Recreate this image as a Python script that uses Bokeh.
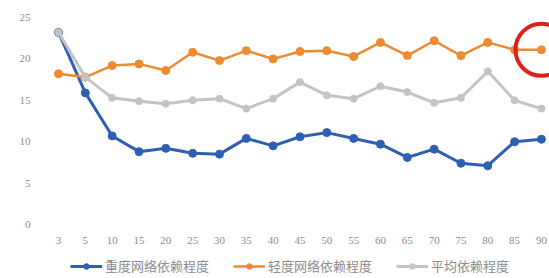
from bokeh.plotting import figure
from bokeh.models import Range1d, FixedTicker, Legend, LegendItem
from bokeh.embed import file_html
from bokeh.resources import INLINE

categories = ["3", "5", "10", "15", "20", "25", "30", "35", "40", "45",
              "50", "55", "60", "65", "70", "75", "80", "85", "90"]
heavy = [23.2, 15.9, 10.7, 8.8, 9.2, 8.6, 8.5, 10.4, 9.5, 10.6,
         11.1, 10.4, 9.7, 8.1, 9.1, 7.4, 7.1, 10.0, 10.3]
light = [18.2, 17.8, 19.2, 19.4, 18.6, 20.8, 19.8, 21.0, 20.0, 20.9,
         21.0, 20.3, 22.0, 20.4, 22.2, 20.4, 22.0, 21.1, 21.1]
average = [23.2, 17.8, 15.3, 14.9, 14.6, 15.0, 15.2, 14.0, 15.2, 17.2,
           15.6, 15.2, 16.7, 16.0, 14.7, 15.3, 18.5, 15.0, 14.0]
y_ticks = [0, 5, 10, 15, 20, 25]
series_names = ["重度网络依赖程度", "轻度网络依赖程度", "平均依赖程度"]

xs = list(range(len(categories)))

p = figure(width=549, height=278, output_backend="svg", toolbar_location=None,
           x_range=Range1d(-0.485, 18.3), y_range=Range1d(-6.52, 25.85),
           min_border_left=45, min_border_right=0, min_border_top=10,
           min_border_bottom=0)
p.outline_line_color = None
p.background_fill_color = "white"
p.border_fill_color = "white"
p.xgrid.visible = False
p.ygrid.visible = False

for ax in (p.xaxis[0], p.yaxis[0]):
    ax.axis_line_color = None
    ax.major_tick_line_color = None
    ax.minor_tick_line_color = None
    ax.major_tick_out = 0
    ax.major_tick_in = 0
    ax.major_label_text_color = "#8c8c8c"
    ax.major_label_text_font = "Liberation Serif"
    ax.major_label_text_font_size = "11px"

p.xaxis.ticker = FixedTicker(ticks=xs)
p.xaxis.major_label_overrides = {i: c for i, c in enumerate(categories)}
p.xaxis.major_label_standoff = 12
p.xaxis.fixed_location = 0
p.yaxis.ticker = FixedTicker(ticks=y_ticks)
p.yaxis.major_label_standoff = 15

blue = "#2f5fb3"
orange = "#ee8a2f"
gray = "#c4c4c4"

l1 = p.line(xs, heavy, line_color=blue, line_width=3)
m1 = p.scatter(xs, heavy, marker="circle", size=8, fill_color=blue, line_color=blue)
l2 = p.line(xs, light, line_color=orange, line_width=2.5)
m2 = p.scatter(xs, light, marker="circle", size=8, fill_color=orange, line_color=orange)
l3 = p.line(xs, average, line_color=gray, line_width=3)
m3 = p.scatter(xs, average, marker="circle", size=7, fill_color=gray, line_color=gray)

# highlight circle around the last value of the light series
p.scatter([xs[-1]], [light[-1]], marker="circle", size=52, fill_color=None,
          line_color="#e0201a", line_width=4)

legend = Legend(items=[LegendItem(label=series_names[0], renderers=[l1, m1]),
                       LegendItem(label=series_names[1], renderers=[l2, m2]),
                       LegendItem(label=series_names[2], renderers=[l3, m3])],
                orientation="horizontal", location=(25, 3),
                border_line_color=None, background_fill_alpha=0,
                label_text_font="Noto Sans CJK SC", label_text_font_size="13px",
                label_text_color="#8c8c8c", glyph_width=32, glyph_height=14,
                label_height=14, label_standoff=3, spacing=24, padding=0,
                margin=0)
p.add_layout(legend, "center")

open("out.html", "w").write(file_html(p, INLINE))
